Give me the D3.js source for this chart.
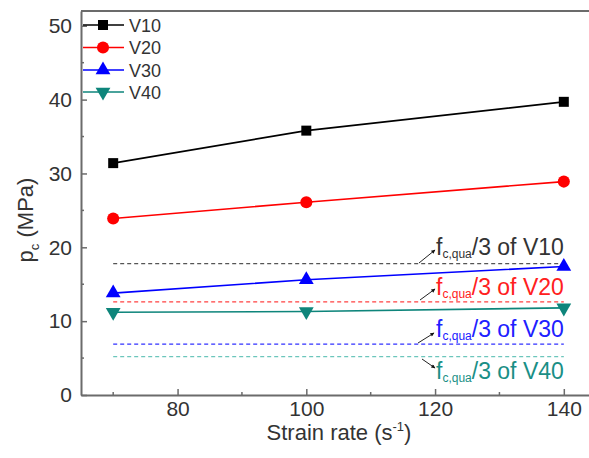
<!DOCTYPE html>
<html>
<head>
<meta charset="utf-8">
<script src="https://cdn.jsdelivr.net/npm/d3@7"></script>
<style>
  body { margin: 0; background: #fff; }
  text { font-family: Arial, "Liberation Sans", sans-serif; }
</style>
</head>
<body>
<div id="chart"></div>
<script>
const strainRates = [70, 100, 140];
const seriesNames = ['V10', 'V20', 'V30', 'V40'];
const v10 = [31.4, 35.8, 39.7];
const v20 = [23.9, 26.1, 28.9];
const v30 = [13.8, 15.6, 17.4];
const v40 = [11.2, 11.3, 11.8];
const limitValues = [17.8, 12.6, 6.9, 5.2];   // fc,qua/3 of V10..V40
const xTicks = [80, 100, 120, 140];
const xMinor = [70, 90, 110, 130];
const yTicks = [0, 10, 20, 30, 40, 50];
const yMinor = [5, 15, 25, 35, 45];

const colors = ['#000000', '#ff0000', '#0000ff', '#0e857b'];
const dashColors = ['#555555', '#ff4040', '#3030ff', '#6cc6bc'];
const annoColors = ['#333333', '#ff2020', '#2020ff', '#1a8f86'];
const symbols = [d3.symbolSquare, d3.symbolCircle, d3.symbolTriangle, 'down'];

const W = 589, H = 458;
const margin = { top: 11, left: 81 };

const svg = d3.select('#chart').append('svg')
  .attr('width', W).attr('height', H);

const xScale = d3.scaleLinear().domain([65, 145]).range([margin.left, 596]);
const yScale = d3.scaleLinear().domain([0, 52]).range([395, margin.top]);

const axisColor = '#6b6b6b';
const labelColor = '#333333';

// frame top
svg.append('line')
  .attr('x1', xScale(65)).attr('x2', xScale(145))
  .attr('y1', yScale(52)).attr('y2', yScale(52))
  .attr('stroke', axisColor).attr('stroke-width', 2);

// x axis
let xAxis = svg.append('g')
  .attr('transform', `translate(0, ${yScale(0)})`)
  .call(d3.axisBottom(xScale).tickValues(xTicks).tickSizeInner(-6).tickSizeOuter(0).tickPadding(6));
xAxis.selectAll('.minor').data(xMinor).enter()
  .append('line').attr('class', 'minor')
  .attr('x1', d => xScale(d)).attr('x2', d => xScale(d))
  .attr('y1', 0).attr('y2', -3);

// y axis
let yAxis = svg.append('g')
  .attr('transform', `translate(${xScale(65)}, 0)`)
  .call(d3.axisLeft(yScale).tickValues(yTicks).tickSizeInner(-6).tickSizeOuter(0).tickPadding(9));
yAxis.selectAll('.minor').data(yMinor).enter()
  .append('line').attr('class', 'minor')
  .attr('x1', 0).attr('x2', 3)
  .attr('y1', d => yScale(d)).attr('y2', d => yScale(d));

[xAxis, yAxis].forEach(ax => {
  ax.select('.domain').attr('stroke', axisColor).attr('stroke-width', 2);
  ax.selectAll('line').attr('stroke', axisColor).attr('stroke-width', 1.5);
  ax.selectAll('text').attr('fill', labelColor).style('font-size', '21px')
    .style('font-family', 'Arial, "Liberation Sans", sans-serif');
});

// axis titles
let xt = svg.append('text')
  .attr('x', 339).attr('y', 440)
  .attr('text-anchor', 'middle')
  .attr('fill', labelColor)
  .style('font-size', '22px');
xt.append('tspan').text('Strain rate (s');
xt.append('tspan').attr('dy', -9).style('font-size', '13px').text('-1');
xt.append('tspan').attr('dy', 9).text(')');

let yt = svg.append('text')
  .attr('transform', 'translate(33, 220) rotate(-90)')
  .attr('text-anchor', 'middle')
  .attr('fill', labelColor)
  .style('font-size', '22px');
yt.append('tspan').text('p');
yt.append('tspan').attr('dy', 6).style('font-size', '13px').text('c');
yt.append('tspan').attr('dy', -6).text(' (MPa)');

// dashed limit lines
svg.selectAll('.limit').data(limitValues).enter()
  .append('line').attr('class', 'limit')
  .attr('x1', xScale(70)).attr('x2', xScale(140))
  .attr('y1', d => yScale(d)).attr('y2', d => yScale(d))
  .attr('stroke', (d, i) => dashColors[i])
  .attr('stroke-width', 1.3)
  .attr('stroke-dasharray', '4,3');

// annotations
const annoY = [255, 295, 337, 379];
const arrows = [
  [419, 263, 435, 250],
  [420, 300, 435, 289],
  [418, 343, 434, 333],
  [422, 359, 435, 368]
];
svg.append('defs').append('marker')
  .attr('id', 'head').attr('viewBox', '0 0 10 10')
  .attr('refX', 9).attr('refY', 5)
  .attr('markerWidth', 6).attr('markerHeight', 4)
  .attr('orient', 'auto')
  .append('path').attr('d', 'M0,0 L10,5 L0,10 Z').attr('fill', '#111');

seriesNames.forEach((name, i) => {
  let t = svg.append('text')
    .attr('x', 436).attr('y', annoY[i])
    .attr('fill', annoColors[i])
    .style('font-size', '23px');
  t.append('tspan').text('f');
  t.append('tspan').attr('dy', 3).style('font-size', '12px').text('c,qua');
  t.append('tspan').attr('dy', -3).text('/3 of ' + name);

  let a = arrows[i];
  svg.append('line')
    .attr('x1', a[0]).attr('y1', a[1]).attr('x2', a[2]).attr('y2', a[3])
    .attr('stroke', '#222').attr('stroke-width', 1)
    .attr('marker-end', 'url(#head)');
});

// series
const allSeries = [v10, v20, v30, v40];
const line = d3.line().x((d, i) => xScale(strainRates[i])).y(d => yScale(d));

function drawSymbol(g, i, x, y) {
  if (symbols[i] === 'down') {
    g.append('path')
      .attr('d', d3.symbol().type(d3.symbolTriangle).size(95)())
      .attr('transform', `translate(${x}, ${y}) rotate(180)`)
      .attr('fill', colors[i]);
  } else {
    let size = i === 0 ? 100 : i === 1 ? 115 : 95;
    g.append('path')
      .attr('d', d3.symbol().type(symbols[i]).size(size)())
      .attr('transform', `translate(${x}, ${y})`)
      .attr('fill', colors[i]);
  }
}

allSeries.forEach((vals, i) => {
  let g = svg.append('g');
  g.append('path')
    .datum(vals)
    .attr('d', line)
    .attr('fill', 'none')
    .attr('stroke', colors[i])
    .attr('stroke-width', 1.6);
  vals.forEach((v, j) => drawSymbol(g, i, xScale(strainRates[j]), yScale(v)));
});

// legend
const legendY = [25, 47.5, 70, 92];
seriesNames.forEach((name, i) => {
  let g = svg.append('g');
  g.append('line')
    .attr('x1', 83).attr('x2', 124)
    .attr('y1', legendY[i]).attr('y2', legendY[i])
    .attr('stroke', colors[i]).attr('stroke-width', 1.6);
  drawSymbol(g, i, 103, legendY[i]);
  g.append('text')
    .attr('x', 129).attr('y', legendY[i] + 6.5)
    .attr('fill', labelColor)
    .style('font-size', '18px')
    .text(name);
});
</script>
</body>
</html>
